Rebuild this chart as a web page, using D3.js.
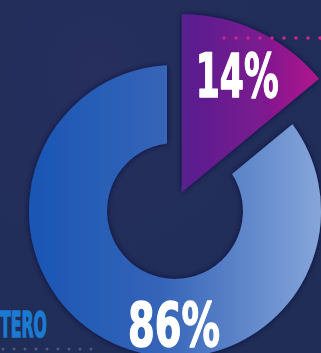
<!DOCTYPE html>
<html>
<head>
<meta charset="utf-8">
<script src="https://cdn.jsdelivr.net/npm/d3@7"></script>
<style>
  html, body { margin: 0; padding: 0; background: #222f5a; }
  svg { display: block; }
</style>
</head>
<body>
<script>
// Share split and its labels
const shares = [14, 86];
const shareLabels = ["14%", "86%"];
const sliceNames = ["minority", "majority"];
const captionText = ["TERO"];

const W = 321, H = 353;
const cx = 175, cy = 211;          // ring centre
const ringInner = 68, ringOuter = 146;
const wedgeOuter = 178;             // highlighted slice is larger
const explode = { dist: 20, angle: 20 * Math.PI / 180 };
const ex = Math.sin(explode.angle) * explode.dist;
const ey = -Math.cos(explode.angle) * explode.dist;

const svg = d3.select("body").append("svg")
  .attr("width", W).attr("height", H);

const defs = svg.append("defs");

// background tint
const bg = defs.append("radialGradient").attr("id", "bg")
  .attr("cx", 0.3).attr("cy", 0.2).attr("r", 0.9);
bg.append("stop").attr("offset", 0).attr("stop-color", "#262f5e");
bg.append("stop").attr("offset", 1).attr("stop-color", "#1f2d57");

// gradients are given in each group's local coordinates
const ringGrad = defs.append("linearGradient").attr("id", "ringGrad")
  .attr("gradientUnits", "userSpaceOnUse")
  .attr("x1", 30 - cx).attr("y1", 0).attr("x2", 321 - cx).attr("y2", 0);
ringGrad.append("stop").attr("offset", 0).attr("stop-color", "#1a56b4");
ringGrad.append("stop").attr("offset", 0.45).attr("stop-color", "#3564b8");
ringGrad.append("stop").attr("offset", 1).attr("stop-color", "#86a6da");

const wedgeGrad = defs.append("linearGradient").attr("id", "wedgeGrad")
  .attr("gradientUnits", "userSpaceOnUse")
  .attr("x1", 182 - cx - ex).attr("y1", 0).attr("x2", 321 - cx - ex).attr("y2", 0);
wedgeGrad.append("stop").attr("offset", 0).attr("stop-color", "#57208f");
wedgeGrad.append("stop").attr("offset", 0.55).attr("stop-color", "#7a1a90");
wedgeGrad.append("stop").attr("offset", 1).attr("stop-color", "#b3138c");

const shadow = defs.append("filter").attr("id", "shadow")
  .attr("x", "-20%").attr("y", "-20%").attr("width", "140%").attr("height", "140%");
shadow.append("feDropShadow").attr("dx", 0).attr("dy", 0)
  .attr("stdDeviation", 3).attr("flood-color", "#0b1436").attr("flood-opacity", 0.7);

svg.append("rect").attr("width", W).attr("height", H).attr("fill", "url(#bg)");

const pie = d3.pie().sort(null).value(d => d);
const arcs = pie(shares);

const ringArc = d3.arc()
  .innerRadius(ringInner).outerRadius(ringOuter)
  .padAngle(16 / ringOuter).padRadius(ringOuter);

const wedgeArc = d3.arc().innerRadius(0).outerRadius(wedgeOuter);

const g = svg.append("g").attr("transform", `translate(${cx},${cy})`);

// majority: the ring
g.append("path")
  .attr("class", sliceNames[1])
  .attr("d", ringArc(arcs[1]))
  .attr("fill", "url(#ringGrad)")
  .attr("filter", "url(#shadow)");

// minority: pulled-out wedge
const wg = g.append("g").attr("transform", `translate(${ex},${ey})`);
wg.append("path")
  .attr("class", sliceNames[0])
  .attr("d", wedgeArc(arcs[0]))
  .attr("fill", "url(#wedgeGrad)")
  .attr("filter", "url(#shadow)");

// dotted accent lines
const topDots = d3.range(224, W + 6, 12);
svg.append("g").selectAll("circle").data(topDots).join("circle")
  .attr("cx", d => d).attr("cy", 38).attr("r", 1.8).attr("fill", "#c8258f");

const bottomDots = d3.range(3, 95, 11);
svg.append("g").selectAll("circle").data(bottomDots).join("circle")
  .attr("cx", d => d).attr("cy", 349).attr("r", 1.5).attr("fill", "#4a5b8c");

// condensed heavy labels: squeeze the natural width to the wanted width
const font = "'DejaVu Sans Condensed', 'DejaVu Sans', sans-serif";
const capH = 44;
function squeezedText(parent, x, baseline, str, size, width, anchor, fill) {
  const t = parent.append("text")
    .attr("font-family", font).attr("font-weight", "bold")
    .attr("font-size", size).attr("fill", fill)
    .attr("stroke", fill).attr("stroke-width", 1.4)
    .attr("stroke-linejoin", "round")
    .text(str);
  const natural = t.node().getComputedTextLength();
  const k = width / natural;
  const left = anchor === "end" ? x - width : anchor === "middle" ? x - width / 2 : x;
  t.attr("transform", `translate(${left},${baseline}) scale(${k},1)`);
  return t;
}

const labelArc = d3.arc().innerRadius(130).outerRadius(130);
const [lx, ly] = labelArc.centroid(arcs[0]);
squeezedText(wg, lx, ly + capH / 2, shareLabels[0], 60, 83, "middle", "#ffffff");
squeezedText(g, -1, 114 + capH / 2 - 1, shareLabels[1], 60, 92, "middle", "#ffffff");
squeezedText(svg, 47, 337, captionText[0], 36, 47, "end", "#1b7bd2");
</script>
</body>
</html>
